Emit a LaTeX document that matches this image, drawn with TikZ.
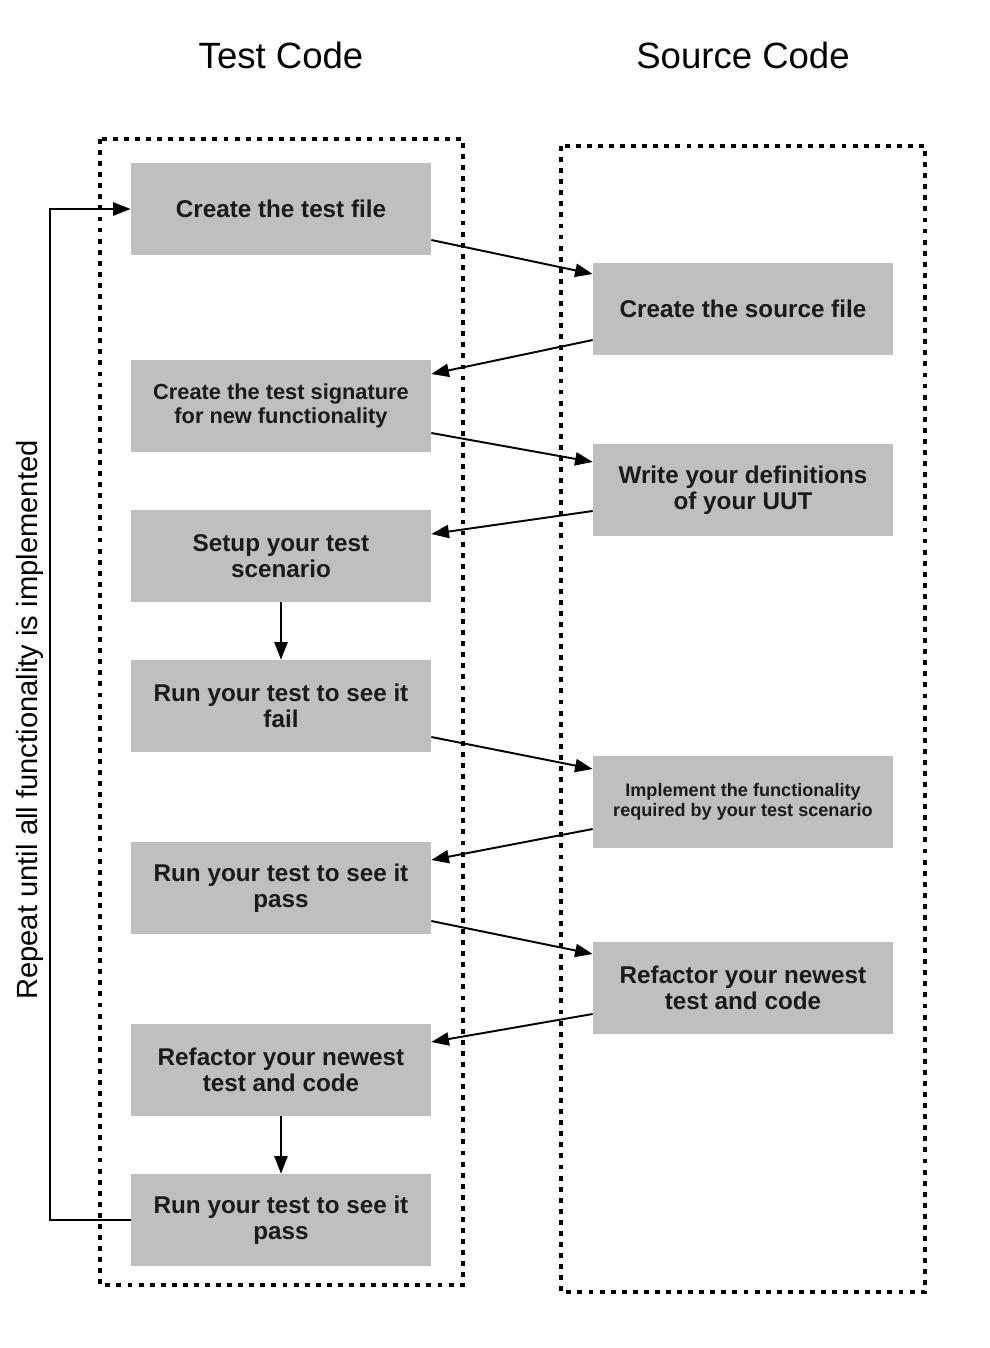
\documentclass[tikz,border=0pt]{standalone}
\usepackage{fontspec}
\setmainfont{Liberation Sans}
\usetikzlibrary{arrows.meta,calc}
\definecolor{boxgray}{HTML}{BFBFBF}
\definecolor{inkgray}{HTML}{1A1A1A}
\begin{document}
\begin{tikzpicture}[x=0.2mm,y=-0.2mm,
    stepbox/.style={fill=boxgray,text=inkgray,minimum width=6cm,minimum height=1.84cm,
        align=center,inner sep=2pt,font=\bfseries\fontsize{13.8}{15}\selectfont},
    smallbox/.style={stepbox,font=\bfseries\fontsize{12.4}{13.6}\selectfont},
    tinybox/.style={stepbox,font=\bfseries\fontsize{10.3}{11.3}\selectfont},
    lane/.style={line width=2.8pt,dash pattern=on 2.8pt off 3.5pt},
    flow/.style={line width=1.1pt,-{Triangle[length=10pt,width=7.5pt]}},
    title/.style={font=\fontsize{20.8}{24}\selectfont}]
                \useasboundingbox (0,0) rectangle (990,1348);
                %% titles
                \node[title] (testtitle) at (281,55) {Test Code};
                \node[title] (srctitle) at (743,55) {Source Code};
                %% lanes
                \draw[lane] (100,139) rectangle (463,1285);
                \draw[lane] (561,146) rectangle (925,1292);
                %% test code
                \node[stepbox] (t1) at (281,209) {Create the test file};
                \node[smallbox] (t2) at (281,406) {Create the test signature\\for new functionality};
                \node[stepbox] (t3) at (281,556) {Setup your test\\scenario};
                \node[stepbox] (t4) at (281,706) {Run your test to see it\\fail};
                \node[stepbox] (t5) at (281,888) {Run your test to see it\\pass};
                \node[stepbox] (t6) at (281,1070) {Refactor your newest\\test and code};
                \node[stepbox] (t7) at (281,1220) {Run your test to see it\\pass};
                %% source code
                \node[stepbox] (s1) at (743,309) {Create the source file};
                \node[stepbox] (s2) at (743,490) {Write your definitions\\of your UUT};
                \node[tinybox] (s3) at (743,802) {Implement the functionality\\required by your test scenario};
                \node[stepbox] (s4) at (743,988) {Refactor your newest\\test and code};
                %% back and forth
                \draw[flow] ($(t1.east)+(0,31)$) -- ($(s1.west)+(0,-35)$);
                \draw[flow] ($(s1.west)+(0,31)$) -- ($(t2.east)+(0,-32)$);
                \draw[flow] ($(t2.east)+(0,27)$) -- ($(s2.west)+(0,-28)$);
                \draw[flow] ($(s2.west)+(0,21)$) -- ($(t3.east)+(0,-22)$);
                \draw[flow] (t3) -- (t4);
                \draw[flow] ($(t4.east)+(0,31)$) -- ($(s3.west)+(0,-33)$);
                \draw[flow] ($(s3.west)+(0,27)$) -- ($(t5.east)+(0,-28)$);
                \draw[flow] ($(t5.east)+(0,33)$) -- ($(s4.west)+(0,-34)$);
                \draw[flow] ($(s4.west)+(0,26)$) -- ($(t6.east)+(0,-28)$);
                \draw[flow] (t6) -- (t7);
                %% loop
                \draw[flow] (t7.west) -- (50,1220) |- (t1.west);
                \node[rotate=90,font=\fontsize{16.6}{20}\selectfont] (repeat) at (30,720) {Repeat until all functionality is implemented};
            \end{tikzpicture}
\end{document}
